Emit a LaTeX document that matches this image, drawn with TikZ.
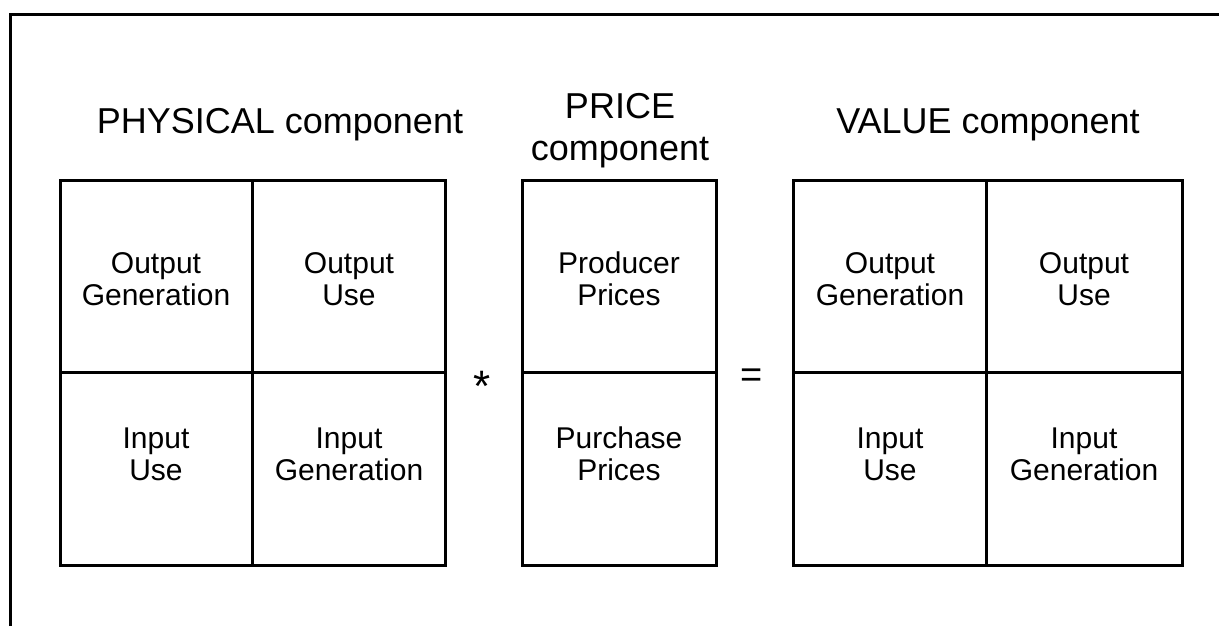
\documentclass[tikz,border=0pt]{standalone}
\usepackage{fontspec}
\setmainfont{Liberation Sans}
\begin{document}
\begin{tikzpicture}[x=0.5pt,y=-0.5pt,line width=1.5pt]
	\tikzset{title/.style={font=\fontsize{18}{21}\selectfont,align=center},
		cell/.style={font=\fontsize{15}{16}\selectfont,align=center}}
	\useasboundingbox (0,0) rectangle (1219,626);
	
	% Frame
	\draw (10,626) -- (10,15) -- (1219,15);
	
	% Boxes
	\draw (60,180) rectangle (445,565);
	\draw (252,180) -- (252,565);
	\draw (60,372) -- (445,372);
	\draw (522,180) rectangle (716,565);
	\draw (522,372) -- (716,372);
	\draw (793,180) rectangle (1182,565);
	\draw (986,180) -- (986,565);
	\draw (793,372) -- (1182,372);
	
	% Titles
	\node[title] (phys) at (280,125) {PHYSICAL component};
	\node[title] (price) at (620,131) {PRICE\\component};
	\node[title] (value) at (988,125) {VALUE component};
	
	% Cells
	\node[cell] (pog) at (156,279) {Output\\Generation};
	\node[cell] (pou) at (349,279) {Output\\Use};
	\node[cell] (piu) at (156,454) {Input\\Use};
	\node[cell] (pig) at (349,454) {Input\\Generation};
	\node[cell] (prod) at (619,279) {Producer\\Prices};
	\node[cell] (purch) at (619,454) {Purchase\\Prices};
	\node[cell] (vog) at (890,279) {Output\\Generation};
	\node[cell] (vou) at (1084,279) {Output\\Use};
	\node[cell] (viu) at (890,454) {Input\\Use};
	\node[cell] (vig) at (1084,454) {Input\\Generation};
	
	% Operators
	\node[font=\fontsize{22}{24}\selectfont] (times) at (482,386) {*};
	\node[font=\fontsize{19}{21}\selectfont] (equals) at (752,378) {=};
\end{tikzpicture}
\end{document}
